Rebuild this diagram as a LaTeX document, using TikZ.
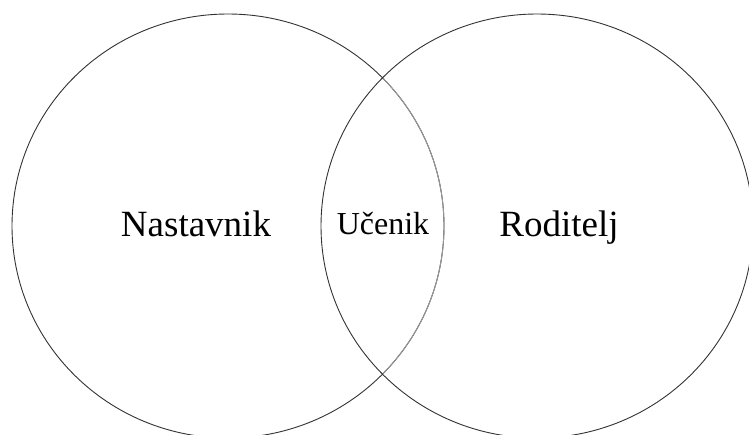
\documentclass[tikz,border=0pt]{standalone}
\usepackage{fontspec}
\setmainfont{Liberation Serif}
\usetikzlibrary{shapes.geometric}

\begin{document}
\begin{tikzpicture}[x=1pt, y=-1pt,
    setring/.style={draw=black!80, line width=0.9pt, ellipse, inner sep=0pt,
                    outer sep=0pt, minimum width=432pt, minimum height=424pt},
    setlabel/.style={anchor=base, inner sep=0pt}]

    \useasboundingbox (0,0) rectangle (749,434);

    % the two sets
    \node[setring] (nastavnik) at (228,226) {};
    \begin{scope}
        \clip (537,226) ellipse [x radius=216pt, y radius=212pt];
        \node[setring, draw=black!40] (inner) at (228,226) {};
    \end{scope}
    \node[setring] (roditelj) at (537,226) {};

    % labels
    \node[setlabel, font=\fontsize{37}{40}\selectfont] (lnast) at (196,236) {Nastavnik};
    \node[setlabel, font=\fontsize{32}{36}\selectfont] (lucen) at (383,234) {Učenik};
    \node[setlabel, font=\fontsize{37}{40}\selectfont] (lrod) at (559,236) {Roditelj};

\end{tikzpicture}
\end{document}
